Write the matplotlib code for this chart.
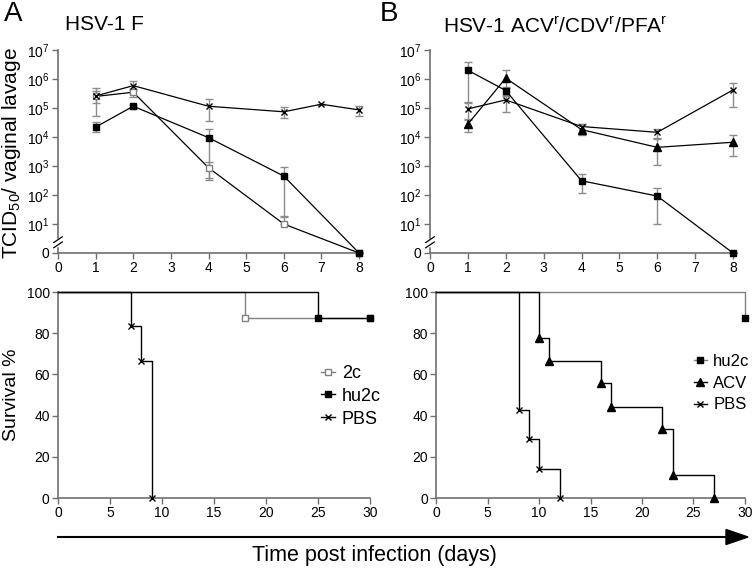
import numpy as np
import matplotlib
matplotlib.use("Agg")
import matplotlib.pyplot as plt
from matplotlib.lines import Line2D
from matplotlib.patches import Polygon
import matplotlib.transforms as mtrans

plt.rcParams['font.family'] = ['Liberation Sans', 'DejaVu Sans']
plt.rcParams['mathtext.fontset'] = 'custom'
plt.rcParams['mathtext.rm'] = 'Liberation Sans'
plt.rcParams['mathtext.it'] = 'Liberation Sans:italic'
plt.rcParams['mathtext.bf'] = 'Liberation Sans:bold'

# ---------------- data ----------------
# Panel A (HSV-1 F) viral titers, TCID50 / vaginal lavage (0 = not detected)
A_days = [1, 2, 4, 6, 8]
A_2c = [2.5e5, 3.5e5, 870, 10, 0]
A_2c_hi = [4.8e5, 4.6e5, 1.4e3, 19, 0]
A_2c_lo = [5.2e4, 2.4e5, 330, 10, 0]
A_hu2c = [2.2e4, 1.15e5, 9.5e3, 450, 0]
A_hu2c_hi = [3.2e4, 1.3e5, 1.9e4, 900, 0]
A_hu2c_lo = [1.5e4, 9.5e4, 400, 17, 0]
A_pbs_days = [1, 2, 4, 6, 7, 8]
A_pbs = [2.6e5, 5.9e5, 1.15e5, 7.4e4, 1.35e5, 8.6e4]
A_pbs_hi = [4.0e5, 8.7e5, 2.0e5, 1.05e5, 1.4e5, 1.17e5]
A_pbs_lo = [1.5e5, 4.2e5, 3.5e4, 4.7e4, 1.3e5, 5.2e4]

# Panel B (HSV-1 ACVr/CDVr/PFAr)
B_days = [1, 2, 4, 6, 8]
B_hu2c = [2.0e6, 4.0e5, 310, 92, 0]
B_hu2c_hi = [4.0e6, 5.5e5, 520, 170, 0]
B_hu2c_lo = [1.5e5, 2.5e5, 115, 10, 0]
B_acv = [2.8e4, 1.07e6, 1.8e4, 4.4e3, 6.6e3]
B_acv_hi = [4.2e4, 2.0e6, 2.8e4, 9.0e3, 1.17e4]
B_acv_lo = [1.5e4, 5.0e5, 1.2e4, 1.07e3, 2.3e3]
B_pbs = [9.3e4, 1.9e5, 2.3e4, 1.45e4, 4.2e5]
B_pbs_hi = [1.6e5, 2.8e5, 2.8e4, 1.9e4, 7.0e5]
B_pbs_lo = [4.0e4, 7.0e4, 1.5e4, 8.5e3, 1.1e5]

# Survival (Kaplan-Meier steps), days and percent
SA_2c_t = [0, 18, 30]
SA_2c_s = [100, 87.5, 87.5]
SA_hu2c_t = [0, 25, 30]
SA_hu2c_s = [100, 87.5, 87.5]
SA_pbs_t = [0, 7, 8, 9]
SA_pbs_s = [100, 83.3, 66.7, 0]
SB_hu2c_t = [0, 30]
SB_hu2c_s = [100, 87.5]
SB_acv_t = [0, 10, 11, 16, 17, 22, 23, 27]
SB_acv_s = [100, 77.8, 66.7, 55.6, 44.4, 33.3, 11.1, 0]
SB_pbs_t = [0, 8, 9, 10, 12]
SB_pbs_s = [100, 42.9, 28.6, 14.3, 0]

top_xticks = list(range(0, 9))
top_ylabels = ['0'] + [r'$\mathregular{10^{%d}}$' % k for k in range(1, 8)]
surv_xticks = [0, 5, 10, 15, 20, 25, 30]
surv_yticks = [0, 20, 40, 60, 80, 100]

# ---------------- figure ----------------
W, H = 756, 571
fig = plt.figure(figsize=(W / 100, H / 100), dpi=100)

def rect(x0, y_bottom, w, h):
    return [x0 / W, 1 - y_bottom / H, w / W, h / H]

ax1 = fig.add_axes(rect(58, 253, 304.8, 203))
ax2 = fig.add_axes(rect(430, 253, 306.8, 203))
ax3 = fig.add_axes(rect(58, 498, 312, 206))
ax4 = fig.add_axes(rect(436.3, 498, 308.4, 206))

SPINE = '#707070'
ERR = '#8c8c8c'

def style(ax):
    for s in ['top', 'right']:
        ax.spines[s].set_visible(False)
    for s in ['left', 'bottom']:
        ax.spines[s].set_color(SPINE)
        ax.spines[s].set_linewidth(1.2)
    ax.tick_params(direction='out', length=4, width=1, color=SPINE,
                   labelsize=10, pad=2)

def tr(v):
    v = np.asarray(v, dtype=float)
    out = np.zeros_like(v)
    m = v > 0
    out[m] = np.log10(v[m])
    return out

def series(ax, days, vals, hi, lo, marker, mfc, mec, ms, mew=1.0):
    y = tr(vals)
    yh = tr(hi)
    yl = tr(lo)
    ax.errorbar(days, y, yerr=[y - yl, yh - y], fmt='none', ecolor=ERR,
                elinewidth=1, capsize=3, capthick=1, zorder=2, clip_on=False)
    ax.plot(days, y, color='black', lw=0.9, marker=marker, mfc=mfc, mec=mec,
            ms=ms, mew=mew, zorder=3, clip_on=False)

for ax in (ax1, ax2):
    style(ax)
    ax.set_xlim(0, 8.1)
    ax.set_ylim(0, 7)
    ax.set_xticks(top_xticks)
    ax.set_yticks(range(0, 8))
    ax.set_yticklabels(top_ylabels)
    # axis break
    bt = mtrans.blended_transform_factory(ax.transAxes, ax.transData)
    ax.plot([0, 0], [0.28, 0.46], color='white', lw=2.5, transform=bt,
            clip_on=False, zorder=5)
    for yb in (0.28, 0.46):
        ax.plot([-0.014, 0.014], [yb - 0.1, yb + 0.1], color='black', lw=0.9,
                transform=bt, clip_on=False, zorder=6)

series(ax1, A_days, A_2c, A_2c_hi, A_2c_lo, 's', 'white', '#808080', 5)
series(ax1, A_pbs_days, A_pbs, A_pbs_hi, A_pbs_lo, 'x', 'black', 'black', 5)
series(ax1, A_days, A_hu2c, A_hu2c_hi, A_hu2c_lo, 's', 'black', 'black', 5)

series(ax2, B_days, B_pbs, B_pbs_hi, B_pbs_lo, 'x', 'black', 'black', 5)
series(ax2, B_days, B_acv, B_acv_hi, B_acv_lo, '^', 'black', 'black', 6)
series(ax2, B_days, B_hu2c, B_hu2c_hi, B_hu2c_lo, 's', 'black', 'black', 5)

def km(ax, t, s, color, marker, mfc, mec, ms):
    ax.step(t, s, where='post', color=color, lw=1.0, zorder=3, clip_on=False)
    ax.plot(t[1:], s[1:], ls='none', marker=marker, mfc=mfc, mec=mec, ms=ms,
            mew=1.0, zorder=4, clip_on=False)

for ax in (ax3, ax4):
    style(ax)
    ax.set_xlim(0, 30)
    ax.set_ylim(0, 100)
    ax.set_xticks(surv_xticks)
    ax.set_yticks(surv_yticks)

km(ax3, SA_2c_t, SA_2c_s, '#808080', 's', 'white', '#808080', 5)
km(ax3, SA_pbs_t, SA_pbs_s, 'black', 'x', 'black', 'black', 5)
km(ax3, SA_hu2c_t, SA_hu2c_s, 'black', 's', 'black', 'black', 5)

km(ax4, SB_hu2c_t, SB_hu2c_s, '#808080', 's', 'black', 'black', 5)
km(ax4, SB_pbs_t, SB_pbs_s, 'black', 'x', 'black', 'black', 5)
km(ax4, SB_acv_t, SB_acv_s, 'black', '^', 'black', 'black', 6)

# legends
h_2c = Line2D([], [], color='#808080', lw=1, marker='s', mfc='white', mec='#808080', ms=5)
h_hu = Line2D([], [], color='black', lw=1, marker='s', mfc='black', mec='black', ms=5)
h_pbs = Line2D([], [], color='black', lw=1, marker='x', mec='black', ms=5)
h_acv = Line2D([], [], color='black', lw=1, marker='^', mfc='black', mec='black', ms=6)
h_hu_b = Line2D([], [], color='#808080', lw=1, marker='s', mfc='black', mec='black', ms=4)

leg_kw = dict(frameon=False, fontsize=13, handlelength=0.75, handletextpad=0.4,
              labelspacing=0.32, borderpad=0, borderaxespad=0, loc='upper left')
ax3.legend([h_2c, h_hu, h_pbs], ['2c', 'hu2c', 'PBS'],
           bbox_to_anchor=(321 / W, 1 - 365 / H), bbox_transform=fig.transFigure, **leg_kw)
leg_kw_b = dict(leg_kw)
leg_kw_b['fontsize'] = 12
leg_kw_b['labelspacing'] = 0.4
ax4.legend([h_hu_b, h_acv, h_pbs], ['hu2c', 'ACV', 'PBS'],
           bbox_to_anchor=(694 / W, 1 - 354 / H), bbox_transform=fig.transFigure, **leg_kw_b)

# texts
def ftext(x, y, s, **kw):
    fig.text(x / W, 1 - y / H, s, **kw)

ftext(4, 21, 'A', fontsize=20, va='baseline', ha='left')
ftext(380, 21, 'B', fontsize=20, va='baseline', ha='left')
ftext(65, 30, 'HSV-1 F', fontsize=15, va='baseline', ha='left')
ftext(443, 33, r'HSV-1 ACV$^{\mathregular{r}}$/CDV$^{\mathregular{r}}$/PFA$^{\mathregular{r}}$',
      fontsize=15, va='baseline', ha='left')
ftext(12, 153, r'TCID$_{\mathregular{50}}$/ vaginal lavage', fontsize=15, rotation=90,
      va='center', ha='center')
ftext(12, 395, 'Survival %', fontsize=14, rotation=90, va='center', ha='center')
ftext(374, 555, 'Time post infection (days)', fontsize=15.5, va='center', ha='center')

# arrow
fig.add_artist(Line2D([58 / W, 728 / W], [1 - 537 / H, 1 - 537 / H], color='black',
                      lw=1.5, transform=fig.transFigure))
fig.add_artist(Polygon([[726 / W, 1 - 529.5 / H], [726 / W, 1 - 544.5 / H],
                        [748 / W, 1 - 537 / H]], closed=True, color='black',
                       transform=fig.transFigure))

fig.savefig('out.png', dpi=100)
